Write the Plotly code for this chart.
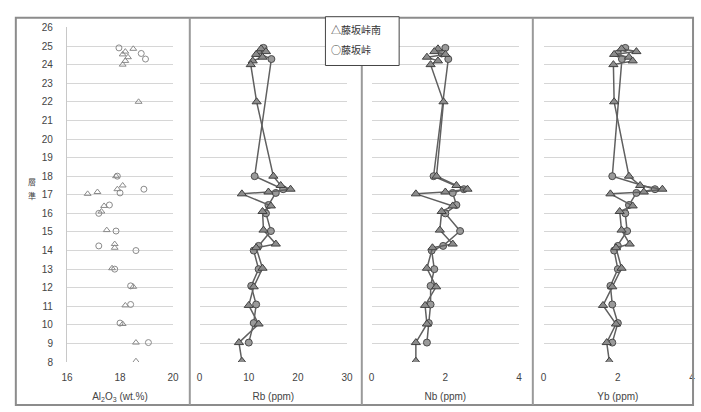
import plotly.graph_objects as go
from plotly.subplots import make_subplots

# 藤坂峠南 (triangles): stratigraphic level and element contents
south_level = [24.85, 24.7, 24.55, 24.4, 24.2, 24.0, 22.0, 18.0, 17.5, 17.3, 17.15, 17.05,
               16.4, 16.1, 15.1, 14.35, 14.15, 13.05, 12.05, 11.05, 10.05, 9.05, 8.05]
south_al2o3 = [18.5, 18.2, 18.1, 18.3, 18.2, 18.1, 18.7, 17.85, 18.1, 17.9, 17.15, 16.78,
               17.4, 17.3, 17.5, 17.8, 17.8, 17.7, 18.5, 18.2, 18.1, 18.6, 18.6]
south_rb = [12.5, 13.5, 11.5, 12.8, 10.8, 10.4, 11.6, 15.0, 16.5, 18.5, 14.0, 8.6,
            14.5, 12.8, 13.0, 15.5, 11.5, 12.8, 11.0, 10.0, 12.0, 8.0, 8.6]
south_nb = [1.8, 1.7, 2.0, 1.5, 1.8, 1.6, 1.95, 1.76, 2.3, 2.6, 2.0, 1.2,
            2.2, 1.9, 1.85, 2.2, 1.65, 1.5, 1.75, 1.45, 1.5, 1.2, 1.2]
south_yb = [2.1, 2.5, 1.9, 2.3, 2.4, 1.88, 1.9, 2.3, 2.6, 3.2, 2.7, 1.8,
            2.4, 2.05, 2.1, 2.32, 1.95, 2.1, 1.85, 1.6, 1.95, 1.7, 1.77]

# 藤坂峠 (circles)
north_level = [24.9, 24.6, 24.3, 18.0, 17.3, 17.1, 16.45, 16.0, 15.05, 14.25, 14.0,
               13.0, 12.1, 11.1, 10.1, 9.05]
north_al2o3 = [17.96, 18.8, 18.96, 17.9, 18.9, 18.0, 17.6, 17.2, 17.85, 17.2, 18.6,
               17.8, 18.4, 18.4, 18.0, 19.07]
north_rb = [13.0, 12.0, 14.6, 11.2, 17.0, 15.5, 14.0, 13.5, 14.5, 12.0, 11.0,
            12.0, 10.5, 11.5, 11.0, 10.0]
north_nb = [2.0, 1.9, 2.08, 1.68, 2.5, 2.2, 2.3, 2.0, 2.4, 1.94, 1.63,
            1.7, 1.6, 1.6, 1.55, 1.5]
north_yb = [2.2, 2.0, 2.11, 1.85, 3.0, 2.5, 2.3, 2.2, 2.25, 2.0, 1.9,
            2.0, 1.8, 1.85, 2.0, 1.85]

panel_titles = ["Al<sub>2</sub>O<sub>3</sub> (wt.%)", "Rb (ppm)", "Nb (ppm)", "Yb (ppm)"]
panel_ranges = [[16, 20], [0, 30], [0, 4], [0, 4]]
panel_ticks = [[16, 18, 20], [0, 10, 20, 30], [0, 2, 4], [0, 2, 4]]
y_ticks = list(range(8, 27))
y_title_chars = ["層", "準"]
legend_labels = ["△藤坂峠南", "○藤坂峠"]

W, H = 701, 412
x_px = [(62, 170), (197, 347), (372, 522), (547, 698)]
y_top_px, y_bot_px = 23, 366

fig = make_subplots(rows=1, cols=4, shared_yaxes=True)

south_cols = [south_al2o3, south_rb, south_nb, south_yb]
north_cols = [north_al2o3, north_rb, north_nb, north_yb]

for i in range(4):
    col = i + 1
    if i == 0:
        fig.add_trace(go.Scatter(
            x=north_cols[i], y=north_level, mode="markers", name="藤坂峠",
            marker=dict(symbol="circle-open", size=6, color="#8a8a8a", line=dict(width=1))),
            row=1, col=col)
        fig.add_trace(go.Scatter(
            x=south_cols[i], y=south_level, mode="markers", name="藤坂峠南",
            marker=dict(symbol="triangle-up-open", size=6, color="#8a8a8a", line=dict(width=1))),
            row=1, col=col)
    else:
        fig.add_trace(go.Scatter(
            x=north_cols[i], y=north_level, mode="lines+markers", name="藤坂峠",
            line=dict(color="#606060", width=1.5),
            marker=dict(symbol="circle", size=7, color="#9a9a9a",
                        line=dict(color="#4a4a4a", width=1))),
            row=1, col=col)
        fig.add_trace(go.Scatter(
            x=south_cols[i], y=south_level, mode="lines+markers", name="藤坂峠南",
            line=dict(color="#606060", width=1.5),
            marker=dict(symbol="triangle-up", size=8, color="#8c8c8c",
                        line=dict(color="#404040", width=1))),
            row=1, col=col)

tick_font = dict(family="Liberation Sans, Arial, sans-serif", size=10, color="#444444")
for i in range(4):
    ax = "xaxis" if i == 0 else f"xaxis{i + 1}"
    x0, x1 = x_px[i]
    fig.layout[ax].update(
        domain=[x0 / W, x1 / W], range=panel_ranges[i], tickvals=panel_ticks[i],
        showgrid=False, zeroline=False, showline=False, ticks="",
        tickfont=tick_font, ticklabelstandoff=8,
        title=dict(text=panel_titles[i], font=tick_font, standoff=10),
    )
    ay = "yaxis" if i == 0 else f"yaxis{i + 1}"
    fig.layout[ay].update(
        domain=[1 - y_bot_px / H, 1 - y_top_px / H], range=[8, 26],
        tickvals=y_ticks, showgrid=True, gridcolor="#d6d6d6", gridwidth=1,
        zeroline=False, ticks="", showticklabels=(i == 0), tickfont=tick_font,
        showline=(i == 0), linecolor="#c8c8c8", linewidth=1,
    )
fig.layout.yaxis.update(ticklabelstandoff=11)

shapes = [dict(type="rect", xref="paper", yref="paper",
               x0=10 / W, x1=699 / W, y0=1 - 410 / H, y1=1 - 13 / H,
               line=dict(color="#8c8c8c", width=2))]
for sx in (187, 362, 536):
    shapes.append(dict(type="line", xref="paper", yref="paper",
                       x0=sx / W, x1=sx / W, y0=1 - 410 / H, y1=1 - 13 / H,
                       line=dict(color="#9a9a9a", width=2)))
# legend box
shapes.append(dict(type="rect", xref="paper", yref="paper",
                   x0=325 / W, x1=400 / W, y0=1 - 62 / H, y1=1 - 12 / H,
                   fillcolor="white", line=dict(color="#444444", width=1), layer="above"))

cjk = dict(family="Noto Sans CJK JP", size=10, color="#333333")
annotations = []
# vertical y-axis title, one character per row
for k, ch in enumerate(y_title_chars):
    annotations.append(dict(
        text=ch, xref="paper", yref="paper", x=26 / W, y=1 - (181 + 14 * k) / H,
        xanchor="center", yanchor="middle", showarrow=False, borderpad=0,
        font=dict(family="Noto Sans CJK JP", size=8, color="#444444")))
for k, lab in enumerate(legend_labels):
    annotations.append(dict(
        text=lab, xref="paper", yref="paper", x=329 / W, y=1 - (25 + 21 * k) / H,
        xanchor="left", yanchor="middle", showarrow=False, font=cjk))

fig.update_layout(
    width=W, height=H, margin=dict(l=0, r=0, t=0, b=0),
    paper_bgcolor="white", plot_bgcolor="white",
    shapes=shapes, annotations=annotations,
    showlegend=False,
)

fig.write_html("out.html")
